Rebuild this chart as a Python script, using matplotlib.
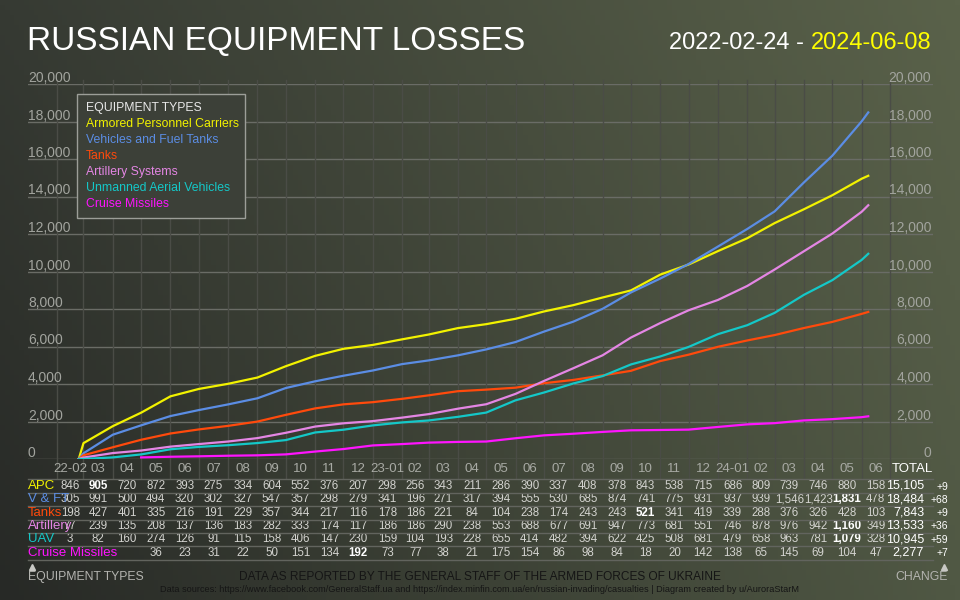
import numpy as np
import pandas as pd
import matplotlib
matplotlib.use("Agg")
import matplotlib.pyplot as plt
import matplotlib.dates as mdates
from matplotlib.lines import Line2D
from matplotlib.patches import Rectangle
from matplotlib.transforms import blended_transform_factory

plt.rcParams['font.family'] = ['Liberation Sans', 'DejaVu Sans']

START_DATE = '2022-02-24'
END_DATE = '2024-06-08'
MONTH_LABELS = ['22-02', '03', '04', '05', '06', '07', '08', '09', '10', '11', '12',
                '23-01', '02', '03', '04', '05', '06', '07', '08', '09', '10', '11', '12',
                '24-01', '02', '03', '04', '05', '06']

APC = [846, 905, 720, 872, 393, 275, 334, 604, 552, 376, 207, 298, 256, 343, 211,
       286, 390, 337, 408, 378, 843, 538, 715, 686, 809, 739, 746, 880, 158]
VFT = [305, 991, 500, 494, 320, 302, 327, 547, 357, 298, 279, 341, 196, 271, 317,
       394, 555, 530, 685, 874, 741, 775, 931, 937, 939, 1546, 1423, 1831, 478]
TANKS = [198, 427, 401, 335, 216, 191, 229, 357, 344, 217, 116, 178, 186, 221, 84,
         104, 238, 174, 243, 243, 521, 341, 419, 339, 288, 376, 326, 428, 103]
ARTILLERY = [77, 239, 135, 208, 137, 136, 183, 282, 333, 174, 117, 186, 186, 290, 238,
             553, 688, 677, 691, 947, 773, 681, 551, 746, 878, 976, 942, 1160, 349]
UAV = [3, 82, 160, 274, 126, 91, 115, 158, 406, 147, 230, 159, 104, 193, 228,
       655, 414, 482, 394, 622, 425, 508, 681, 479, 658, 963, 781, 1079, 328]
MISSILES = [None, None, None, 36, 23, 31, 22, 50, 151, 134, 192, 73, 77, 38, 21,
            175, 154, 86, 98, 84, 18, 20, 142, 138, 65, 145, 69, 104, 47]

TOTALS = [15105, 18484, 7843, 13533, 10945, 2277]
CHANGES = ['+9', '+68', '+9', '+36', '+59', '+7']
ROW_LABELS = ['APC', 'V & FT', 'Tanks', 'Artillery', 'UAV', 'Cruise Missiles']
LEGEND_LABELS = ['Armored Personnel Carriers', 'Vehicles and Fuel Tanks', 'Tanks',
                 'Artillery Systems', 'Unmanned Aerial Vehicles', 'Cruise Missiles']
SERIES = [APC, VFT, TANKS, ARTILLERY, UAV, MISSILES]
COLORS = ['#f2f200', '#5b8de4', '#ff4a0c', '#e486e4', '#14c8c8', '#ff14ff']

W, H = 960, 600


def fx(x):
    return x / W


def fy(y):
    return 1 - y / H


fig = plt.figure(figsize=(9.6, 6), dpi=100)

# background gradient
bg = fig.add_axes([0, 0, 1, 1])
tl = np.array([0x36, 0x3a, 0x33]) / 255
tr = np.array([0x5a, 0x62, 0x4a]) / 255
bl = np.array([0x27, 0x29, 0x26]) / 255
br = np.array([0x50, 0x58, 0x44]) / 255
u = np.linspace(0, 1, 200)[None, :, None]
v = np.linspace(0, 1, 120)[:, None, None]
img = (1 - v) * ((1 - u) * tl + u * tr) + v * ((1 - u) * bl + u * br)
bg.imshow(img, aspect='auto', extent=[0, 1, 0, 1], origin='upper')
bg.set_axis_off()

# main axes, x is time based
month_starts = pd.date_range('2022-02-01', periods=len(MONTH_LABELS) + 1, freq='MS')
d0 = mdates.date2num(month_starts[0])
d1 = mdates.date2num(month_starts[-1])
ppd = (890 - 57) / (d1 - d0)
xl = d0 - (57 - 28) / ppd
xr = d1 + (933 - 890) / ppd

ax = fig.add_axes([fx(28), fy(459), fx(933) - fx(28), (459 - 84) / H])
ax.set_facecolor('none')
ax.set_xlim(xl, xr)
ax.set_ylim(0, 20000)
for s in ax.spines.values():
    s.set_visible(False)
ax.set_xticks([])
ax.set_yticks([])

for val in range(0, 20001, 2000):
    ax.axhline(val, color='#6a6c66', lw=1, zorder=1)
    yy = 459 - val / 20000 * 375
    fig.text(fx(28), fy(yy - 2), f'{val:,}', color='#a2a49e', fontsize=10,
             ha='left', va='baseline')
    fig.text(fx(931), fy(yy - 2), f'{val:,}', color='#a2a49e', fontsize=10,
             ha='right', va='baseline')

for d in month_starts:
    ax.axvline(mdates.date2num(d), ymin=(459 - 478) / 375, ymax=(459 - 80) / 375,
               color='#4a4c46', lw=1, clip_on=False, zorder=1)

# cumulative lines
month_ends = list(month_starts[1:-1]) + [pd.Timestamp(END_DATE)]
for vals, total, col in zip(SERIES, TOTALS, COLORS):
    idx = [i for i, x in enumerate(vals) if x is not None]
    got = [vals[i] for i in idx]
    base = total - sum(got)
    if idx[0] == 0:
        xs = [pd.Timestamp(START_DATE)]
    else:
        xs = [month_starts[idx[0]]]
    xs += [month_ends[i] for i in idx]
    ys = [base] + list(base + np.cumsum(got))
    ax.plot(xs, ys, color=col, lw=1.6, zorder=3, solid_joinstyle='round')

# legend box
fig.add_artist(Rectangle((fx(77), fy(218)), 168 / W, 124 / H, transform=fig.transFigure,
                         facecolor='#3c4038', edgecolor='#9c9e98', lw=1, zorder=5))
fig.text(fx(86), fy(108), 'EQUIPMENT TYPES', color='#e8e8e8', fontsize=8.8,
         ha='left', va='center', zorder=6)
for i, (lab, col) in enumerate(zip(LEGEND_LABELS, COLORS)):
    fig.text(fx(86), fy(124 + 16 * i), lab, color=col, fontsize=8.8,
             ha='left', va='center', zorder=6)

# titles
fig.text(fx(27), fy(41), 'RUSSIAN EQUIPMENT LOSSES', color='white', fontsize=24,
         ha='left', va='center')
t1 = fig.text(fx(931), fy(43), END_DATE, color='#ffff00', fontsize=17,
              ha='right', va='center')
fig.canvas.draw()
bb = t1.get_window_extent()
fig.text(bb.x0 / fig.dpi / 9.6, fy(43), START_DATE + ' - ', color='white', fontsize=17,
         ha='right', va='center')

# month labels and table
tr_mix = blended_transform_factory(ax.transData, fig.transFigure)
centers = [mdates.date2num(month_starts[i]) + (mdates.date2num(month_starts[i + 1])
           - mdates.date2num(month_starts[i])) / 2 for i in range(len(MONTH_LABELS))]
for c, lab in zip(centers, MONTH_LABELS):
    ax.text(c, fy(469), lab, transform=tr_mix, color='#a8aaa4', fontsize=9.5,
            ha='center', va='center')
fig.text(fx(912), fy(469), 'TOTAL', color='white', fontsize=9.5, ha='center', va='center')

sep_y = [478.5, 492.5, 506, 519.5, 533, 546, 559.5]
for sy in sep_y:
    fig.add_artist(Line2D([fx(28), fx(933)], [fy(sy)] * 2, color='#62645e', lw=1))

for r, (lab, vals, col) in enumerate(zip(ROW_LABELS, SERIES, COLORS)):
    ry = 486 + 13.3 * r
    fig.text(fx(28), fy(ry), lab, color=col, fontsize=9.5, ha='left', va='center')
    vmax = max(x for x in vals if x is not None)
    for c, x in zip(centers, vals):
        if x is None:
            continue
        bold = x == vmax
        ax.text(c, fy(ry), f'{x:,}', transform=tr_mix, fontsize=8.3,
                color='white' if bold else '#d4d4d0',
                fontweight='bold' if bold else 'normal', ha='center', va='center')
    fig.text(fx(924), fy(ry), f'{TOTALS[r]:,}', color='white', fontsize=9,
             ha='right', va='center')
    fig.text(fx(948), fy(ry + 0.5), CHANGES[r], color='white', fontsize=7.5,
             ha='right', va='center')

# footer
fig.text(fx(28), fy(577), 'EQUIPMENT TYPES', color='#b4b4b0', fontsize=8.8,
         ha='left', va='center')
fig.text(fx(948), fy(577), 'CHANGE', color='#b4b4b0', fontsize=8.8,
         ha='right', va='center')
fig.add_artist(Line2D([fx(31.5)], [fy(567)], marker='^', ms=4, color='#c8c8c4', lw=0))
fig.add_artist(Line2D([fx(943.5)], [fy(567)], marker='^', ms=4, color='#c8c8c4', lw=0))
fig.text(0.5, fy(577), 'DATA AS REPORTED BY THE GENERAL STAFF OF THE ARMED FORCES OF UKRAINE',
         color='#151515', fontsize=8.6, ha='center', va='center')
fig.text(0.5, fy(589),
         'Data sources: https://www.facebook.com/GeneralStaff.ua and '
         'https://index.minfin.com.ua/en/russian-invading/casualties | '
         'Diagram created by u/AuroraStarM',
         color='#151515', fontsize=6.6, ha='center', va='center')

fig.savefig('out.png', dpi=100)
